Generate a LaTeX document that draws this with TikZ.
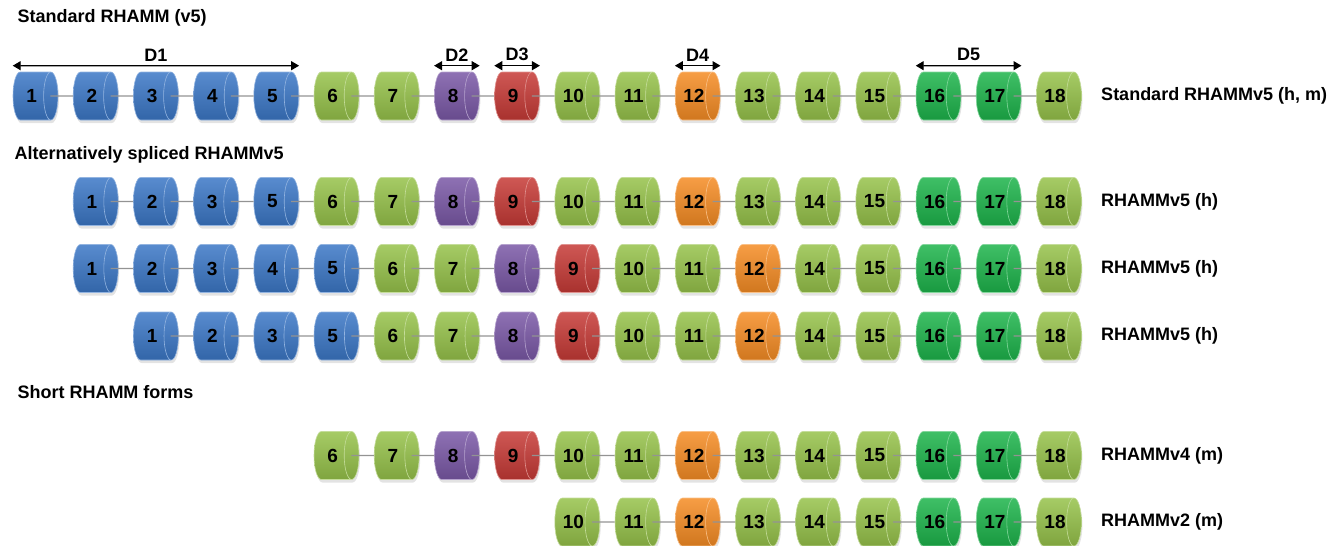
\documentclass[tikz,border=0pt]{standalone}
\usepackage{fontspec}
\setmainfont{Liberation Sans}
\usetikzlibrary{shapes.geometric, arrows.meta, shadows, positioning}
\definecolor{exblue}{HTML}{3B77C6}
\definecolor{exgreen}{HTML}{96C24A}
\definecolor{expurple}{HTML}{7A58A6}
\definecolor{exred}{HTML}{C63A36}
\definecolor{exorange}{HTML}{F58C24}
\definecolor{exbright}{HTML}{1DB44B}
% colour of each exon
\colorlet{ex1}{exblue}\colorlet{ex2}{exblue}\colorlet{ex3}{exblue}
\colorlet{ex4}{exblue}\colorlet{ex5}{exblue}
\colorlet{ex6}{exgreen}\colorlet{ex7}{exgreen}\colorlet{ex8}{expurple}
\colorlet{ex9}{exred}\colorlet{ex10}{exgreen}\colorlet{ex11}{exgreen}
\colorlet{ex12}{exorange}\colorlet{ex13}{exgreen}\colorlet{ex14}{exgreen}
\colorlet{ex15}{exgreen}\colorlet{ex16}{exbright}\colorlet{ex17}{exbright}
\colorlet{ex18}{exgreen}

\begin{document}
\begin{tikzpicture}[
  x=1pt, y=-1pt,
  exon/.style={cylinder, aspect=1.1, draw=#1!55!white, line width=0.6pt,
    top color=#1!85!white, bottom color=#1!85!black,
    minimum width=48pt, minimum height=45pt, inner sep=0pt,
    font=\bfseries\fontsize{19}{19}\selectfont, anchor=shape center,
    drop shadow={opacity=0.22, shadow xshift=1pt, shadow yshift=-3pt}},
  link/.style={draw=gray!85, line width=1.2pt},
  span/.style={<->, >={Triangle[length=8pt, width=9pt]}, line width=1.3pt},
  head/.style={font=\bfseries\fontsize{18}{18}\selectfont, anchor=west},
  form/.style={font=\bfseries\fontsize{18}{18}\selectfont, anchor=west},
  dom/.style={font=\bfseries\fontsize{18}{18}\selectfont, above=1pt}
]
\useasboundingbox (0,0) rectangle (1339,546);

% exon rows: name / centre y / first slot / exons
\foreach \row/\ypos/\first/\exons in {
    std/96/1/{1,2,3,4,5,6,7,8,9,10,11,12,13,14,15,16,17,18},
    alta/201.5/2/{1,2,3,5,6,7,8,9,10,11,12,13,14,15,16,17,18},
    altb/268.5/2/{1,2,3,4,5,6,7,8,9,10,11,12,14,15,16,17,18},
    altc/336/3/{1,2,3,5,6,7,8,9,10,11,12,14,15,16,17,18},
    vfour/455.5/6/{6,7,8,9,10,11,12,13,14,15,16,17,18},
    vtwo/522/10/{10,11,12,13,14,15,16,17,18}} {
  \foreach \e [count=\k from \first] in \exons {
    \node[exon=ex\e] (\row-\k) at ({35.5+60.2*(\k-1)}, \ypos) {\e};
    \ifnum\k>\first
      \pgfmathtruncatemacro\prev{\k-1}
      \draw[link] ([xshift=-8pt]\row-\prev.east) -- (\row-\k.west);
    \fi
  }
}

% domains
\draw[span] ([yshift=6pt]std-1.west |- std-1.north) -- coordinate (dA)
  ([yshift=6pt]std-5.east |- std-5.north);
\node[dom] (lbD1) at (dA) {D1};
\draw[span] ([yshift=6pt]std-8.west |- std-8.north) -- coordinate (dB)
  ([yshift=6pt]std-8.east |- std-8.north);
\node[dom] (lbD2) at (dB) {D2};
\draw[span] ([yshift=6pt]std-9.west |- std-9.north) -- coordinate (dC)
  ([yshift=6pt]std-9.east |- std-9.north);
\node[dom] (lbD3) at (dC) {D3};
\draw[span] ([yshift=6pt]std-12.west |- std-12.north) -- coordinate (dD)
  ([yshift=6pt]std-12.east |- std-12.north);
\node[dom] (lbD4) at (dD) {D4};
\draw[span] ([yshift=6pt]std-16.west |- std-16.north) -- coordinate (dE)
  ([yshift=6pt]std-17.east |- std-17.north);
\node[dom] (lbD5) at (dE) {D5};

% section titles
\node[head] (hdStd) at (14,18) {Standard RHAMM (v5)};
\node[head] (hdAlt) at (11,155) {Alternatively spliced RHAMMv5};
\node[head] (hdShort) at (14,392) {Short RHAMM forms};

% isoform names
\node[form, right=16pt of std-18.east] (fmStd) {Standard RHAMMv5 (h, m)};
\node[form, right=16pt of alta-18.east] (fmA) {RHAMMv5 (h)};
\node[form, right=16pt of altb-18.east] (fmB) {RHAMMv5 (h)};
\node[form, right=16pt of altc-18.east] (fmC) {RHAMMv5 (h)};
\node[form, right=16pt of vfour-18.east] (fmFour) {RHAMMv4 (m)};
\node[form, right=16pt of vtwo-18.east] (fmTwo) {RHAMMv2 (m)};
\end{tikzpicture}
\end{document}
